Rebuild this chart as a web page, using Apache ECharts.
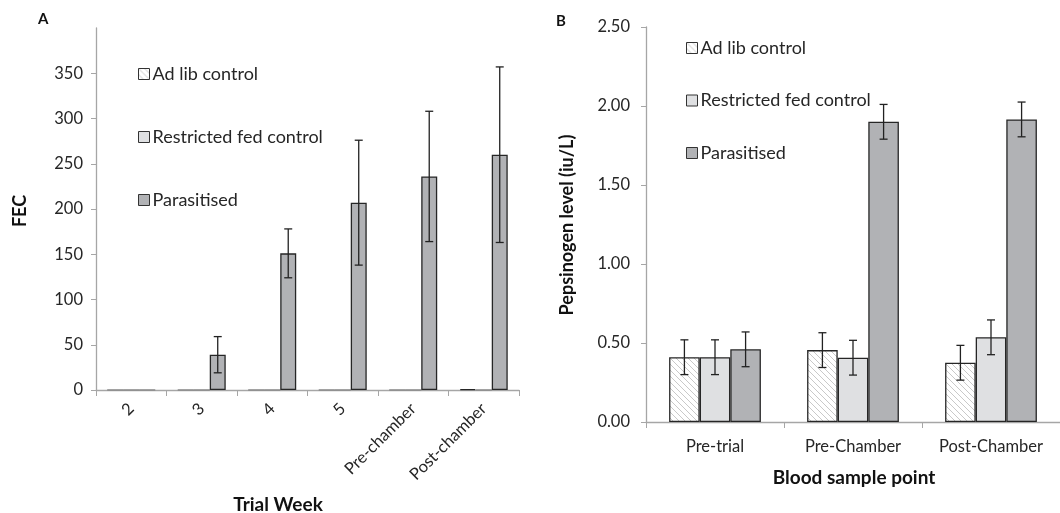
<!DOCTYPE html>
<html>
<head>
<meta charset="utf-8">
<script src="https://cdn.jsdelivr.net/npm/echarts@6/dist/echarts.min.js"></script>
<style>html,body{margin:0;padding:0;background:#fff}#c{width:1060px;height:513px}</style>
</head>
<body>
<div id="c"></div>
<script>
// ---- Data ----
const seriesNames = ['Ad lib control', 'Restricted fed control', 'Parasitised'];

// Panel A: FEC by trial week
const weekCategories = ['2', '3', '4', '5', 'Pre-chamber', 'Post-chamber'];
const fecAdLib      = [0, 0, 0, 0, 0, 1];
const fecRestricted = [0, 0, 0, 0, 0, 0];
const fecParasitised = [0, 39, 151, 207, 236, 260];
const fecParasitisedErr = [0, 20, 27, 69, 72, 97];
const fecYTicks = [0, 400, 50];

// Panel B: Pepsinogen level
const bloodCategories = ['Pre-trial', 'Pre-Chamber', 'Post-Chamber'];
const pepAdLib       = [0.41, 0.455, 0.375];
const pepAdLibErr    = [0.11, 0.11, 0.11];
const pepRestricted  = [0.41, 0.407, 0.536];
const pepRestrictedErr = [0.11, 0.11, 0.11];
const pepParasitised = [0.46, 1.90, 1.915];
const pepParasitisedErr = [0.11, 0.11, 0.11];
const pepYTicks = [0, 2.5, 0.5];

// ---- Styles ----
const FONT = 'Lato, "Open Sans", sans-serif';
const hatch = document.createElement('canvas');
hatch.width = 6; hatch.height = 6;
(function(){
  const g = hatch.getContext('2d');
  g.fillStyle = '#ffffff'; g.fillRect(0,0,6,6);
  g.strokeStyle = '#c9c9c9'; g.lineWidth = 1;
  g.beginPath();
  g.moveTo(-1,-1); g.lineTo(7,7);
  g.moveTo(-1,5); g.lineTo(1,7);
  g.moveTo(5,-1); g.lineTo(7,1);
  g.stroke();
})();
const fills = [{image: hatch, repeat: 'repeat'}, '#dfe0e2', '#b1b2b5'];
const BORDER = '#262626';

function barSeries(name, idx, xi, data, gap) {
  return {
    name: name, type: 'bar', xAxisIndex: xi, yAxisIndex: xi,
    data: data.map(v => v === 0 ? {value: v, itemStyle: {borderColor: '#8a8a8a', borderWidth: 1}} : v),
    barGap: '0%', barCategoryGap: gap,
    itemStyle: {color: fills[idx], borderColor: BORDER, borderWidth: 1.3},
    emphasis: {disabled: true}, animation: false, z: 2
  };
}

function errSeries(xi, values, errs, barIdx, frac) {
  const data = values.map((v, i) => [i, v - errs[i], v + errs[i]]);
  return {
    type: 'custom', xAxisIndex: xi, yAxisIndex: xi, z: 5, animation: false,
    silent: true,
    data: data,
    renderItem: function (params, api) {
      if (api.value(2) - api.value(1) <= 0) return null;
      const band = api.size([1, 0])[0];
      const bw = band * frac / 3;
      const lo = api.coord([api.value(0), api.value(1)]);
      const hi = api.coord([api.value(0), api.value(2)]);
      const x = lo[0] + (barIdx - 1) * bw;
      const cap = 4;
      const st = {stroke: '#222', lineWidth: 1.3};
      return {type: 'group', children: [
        {type: 'line', shape: {x1: x, y1: lo[1], x2: x, y2: hi[1]}, style: st},
        {type: 'line', shape: {x1: x - cap, y1: lo[1], x2: x + cap, y2: lo[1]}, style: st},
        {type: 'line', shape: {x1: x - cap, y1: hi[1], x2: x + cap, y2: hi[1]}, style: st}
      ]};
    }
  };
}

const axisGray = '#a6a6a6';
const labelStyle = {color: '#262626', fontSize: 16.5, fontFamily: FONT};
const legendText = {fontSize: 18, color: '#262626', fontFamily: FONT, lineHeight: 18, padding: [0,0,0,-2]};

const chart = echarts.init(document.getElementById('c'), null, {renderer: 'canvas'});
chart.setOption({
  animation: false,
  textStyle: {fontFamily: FONT},
  grid: [
    {left: 96, top: 28, right: 541, bottom: 123},
    {left: 646, top: 27, right: 0, bottom: 91}
  ],
  xAxis: [
    {type: 'category', gridIndex: 0, data: weekCategories,
     axisLine: {lineStyle: {color: axisGray, width: 1.3}},
     axisTick: {show: true, alignWithLabel: false, length: 6, lineStyle: {color: axisGray}},
     axisLabel: Object.assign({rotate: 45, margin: 16, interval: 0}, labelStyle)},
    {type: 'category', gridIndex: 1, data: bloodCategories,
     axisLine: {lineStyle: {color: axisGray, width: 1.3}},
     axisTick: {show: true, alignWithLabel: false, length: 6, lineStyle: {color: axisGray}},
     axisLabel: Object.assign({margin: 16, interval: 0}, labelStyle)}
  ],
  yAxis: [
    {type: 'value', gridIndex: 0, min: fecYTicks[0], max: fecYTicks[1], interval: fecYTicks[2],
     splitLine: {show: false},
     axisLine: {show: true, lineStyle: {color: axisGray, width: 1.3}},
     axisTick: {show: true, length: 5, lineStyle: {color: axisGray}},
     axisLabel: Object.assign({margin: 13, showMaxLabel: false}, labelStyle)},
    {type: 'value', gridIndex: 1, min: pepYTicks[0], max: pepYTicks[1], interval: pepYTicks[2],
     splitLine: {show: false},
     axisLine: {show: true, lineStyle: {color: axisGray, width: 1.3}},
     axisTick: {show: true, length: 5, lineStyle: {color: axisGray}},
     axisLabel: Object.assign({margin: 16, formatter: v => v.toFixed(2)}, labelStyle)}
  ],
  legend: [
    {orient: 'vertical', left: 133, top: 60, itemGap: 45, itemWidth: 11, itemHeight: 11,
     icon: 'rect', selectedMode: false, data: seriesNames,
     itemStyle: {borderColor: '#333', borderWidth: 1},
     textStyle: legendText},
    {orient: 'vertical', left: 681, top: 34, itemGap: 34.5, itemWidth: 11, itemHeight: 11,
     icon: 'rect', selectedMode: false, data: seriesNames,
     itemStyle: {borderColor: '#333', borderWidth: 1},
     textStyle: legendText}
  ],
  graphic: [
    {type: 'text', left: 38, top: 12, style: {text: 'A', font: 'bold 15px ' + FONT, fill: '#111'}},
    {type: 'text', left: 556, top: 14, style: {text: 'B', font: 'bold 15px ' + FONT, fill: '#111'}},
    {type: 'text', x: 20, y: 211, rotation: Math.PI / 2,
     style: {text: 'FEC', font: 'bold 18px ' + FONT, fill: '#111', align: 'center', verticalAlign: 'middle'}},
    {type: 'text', x: 567, y: 225, rotation: Math.PI / 2,
     style: {text: 'Pepsinogen level (iu/L)', font: 'bold 18px ' + FONT, fill: '#111', align: 'center', verticalAlign: 'middle'}},
    {type: 'text', x: 278, y: 505,
     style: {text: 'Trial Week', font: 'bold 19px ' + FONT, fill: '#111', align: 'center', verticalAlign: 'middle'}},
    {type: 'text', x: 854, y: 478,
     style: {text: 'Blood sample point', font: 'bold 19px ' + FONT, fill: '#111', align: 'center', verticalAlign: 'middle'}}
  ],
  series: [
    barSeries(seriesNames[0], 0, 0, fecAdLib, '32%'),
    barSeries(seriesNames[1], 1, 0, fecRestricted, '32%'),
    barSeries(seriesNames[2], 2, 0, fecParasitised, '32%'),
    errSeries(0, fecParasitised, fecParasitisedErr, 2, 0.68),
    barSeries(seriesNames[0], 0, 1, pepAdLib, '33.5%'),
    barSeries(seriesNames[1], 1, 1, pepRestricted, '33.5%'),
    barSeries(seriesNames[2], 2, 1, pepParasitised, '33.5%'),
    errSeries(1, pepAdLib, pepAdLibErr, 0, 0.665),
    errSeries(1, pepRestricted, pepRestrictedErr, 1, 0.665),
    errSeries(1, pepParasitised, pepParasitisedErr, 2, 0.665)
  ]
});
</script>
</body>
</html>
